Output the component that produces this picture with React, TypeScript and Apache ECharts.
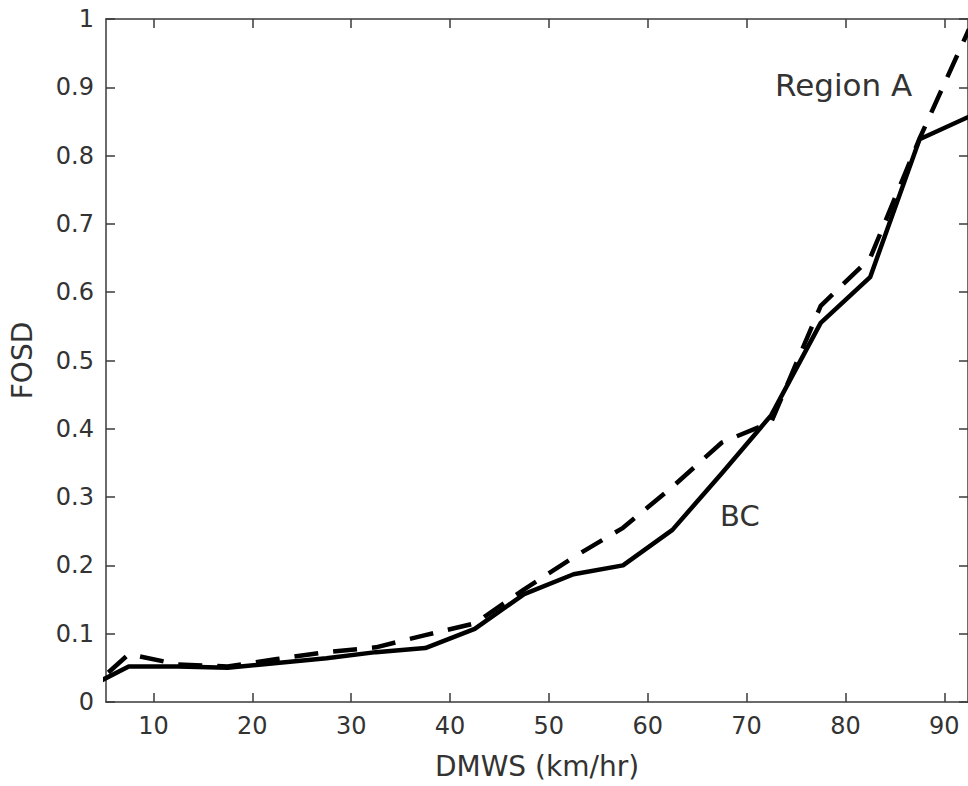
import React, { useEffect, useRef } from "react";
import * as echarts from "echarts";

const xValues = [2.5, 7.5, 12.5, 17.5, 22.5, 27.5, 32.5, 37.5, 42.5, 47.5, 52.5, 57.5, 62.5, 67.5, 72.5, 77.5, 82.5, 87.5, 92.5];
const solidValues = [0.015, 0.052, 0.052, 0.05, 0.057, 0.064, 0.073, 0.079, 0.107, 0.158, 0.187, 0.2, 0.252, 0.335, 0.42, 0.555, 0.622, 0.824, 0.857];
const dashedValues = [0.005, 0.07, 0.055, 0.052, 0.063, 0.073, 0.08, 0.098, 0.115, 0.165, 0.212, 0.255, 0.315, 0.38, 0.41, 0.58, 0.65, 0.825, 0.985];
const xTicks = [10, 20, 30, 40, 50, 60, 70, 80, 90];
const yTicks = [0, 0.1, 0.2, 0.3, 0.4, 0.5, 0.6, 0.7, 0.8, 0.9, 1];

const FONT = "DejaVu Sans";
const AXIS_COLOR = "#3a3a3a";
const TEXT_COLOR = "#333333";

export default function App() {
  const ref = useRef<HTMLDivElement>(null);
  useEffect(() => {
    if (!ref.current) return;
    const chart = echarts.init(ref.current, undefined, { renderer: "svg" });
    const axisLineStyle = { color: AXIS_COLOR, width: 1.5 };
    const xCommon = {
      type: "value" as const,
      min: 5.2,
      max: 92.4,
      splitLine: { show: false },
      axisLine: { show: true, onZero: false, lineStyle: axisLineStyle },
      axisTick: { show: true, inside: true, length: 9, lineStyle: axisLineStyle, customValues: xTicks },
    };
    const yCommon = {
      type: "value" as const,
      min: 0,
      max: 1,
      interval: 0.1,
      splitLine: { show: false },
      axisLine: { show: true, onZero: false, lineStyle: axisLineStyle },
      axisTick: { show: true, inside: true, length: 9, lineStyle: axisLineStyle },
    };
    chart.setOption({
      animation: false,
      backgroundColor: "#ffffff",
      grid: { left: 105, top: 19, width: 865, height: 683 },
      xAxis: [
        {
          ...xCommon,
          position: "bottom",
          name: "DMWS (km/hr)",
          nameLocation: "middle",
          nameGap: 50,
          nameTextStyle: { fontFamily: FONT, fontSize: 28, color: TEXT_COLOR },
          axisLabel: {
            show: true,
            customValues: xTicks,
            margin: 12,
            fontFamily: FONT,
            fontSize: 24,
            color: TEXT_COLOR,
          },
        },
        {
          ...xCommon,
          position: "top",
          axisLabel: { show: false },
        },
      ],
      yAxis: [
        {
          ...yCommon,
          position: "left",
          name: "FOSD",
          nameLocation: "middle",
          nameGap: 70,
          nameTextStyle: { fontFamily: FONT, fontSize: 28, color: TEXT_COLOR },
          axisLabel: {
            show: true,
            margin: 12,
            fontFamily: FONT,
            fontSize: 24,
            color: TEXT_COLOR,
            formatter: (v: number) => {
              const match = yTicks.find((t) => Math.abs(t - v) < 1e-6);
              return match === undefined ? "" : String(match);
            },
          },
        },
        {
          ...yCommon,
          position: "right",
          axisLabel: { show: false },
        },
      ],
      series: [
        {
          name: "BC",
          type: "line",
          xAxisIndex: 0,
          yAxisIndex: 0,
          data: xValues.map((x, i) => [x, solidValues[i]]),
          showSymbol: false,
          symbol: "none",
          clip: true,
          lineStyle: { color: "#000000", width: 4.5, type: "solid", join: "round" },
        },
        {
          name: "Region A",
          type: "line",
          xAxisIndex: 0,
          yAxisIndex: 0,
          data: xValues.map((x, i) => [x, dashedValues[i]]),
          showSymbol: false,
          symbol: "none",
          clip: true,
          lineStyle: { color: "#000000", width: 4.5, type: [24, 15], cap: "butt", join: "round" },
        },
      ],
      graphic: [
        {
          type: "text",
          left: 775,
          top: 69,
          style: { text: "Region A", fontFamily: FONT, fontSize: 31, fill: TEXT_COLOR },
        },
        {
          type: "text",
          left: 720,
          top: 501,
          style: { text: "BC", fontFamily: FONT, fontSize: 29, fill: TEXT_COLOR },
        },
      ],
    });
    return () => chart.dispose();
  }, []);
  return (
    <div
      ref={ref}
      style={{ position: "fixed", left: 0, top: 0, width: 968, height: 786, background: "#fff" }}
    />
  );
}
